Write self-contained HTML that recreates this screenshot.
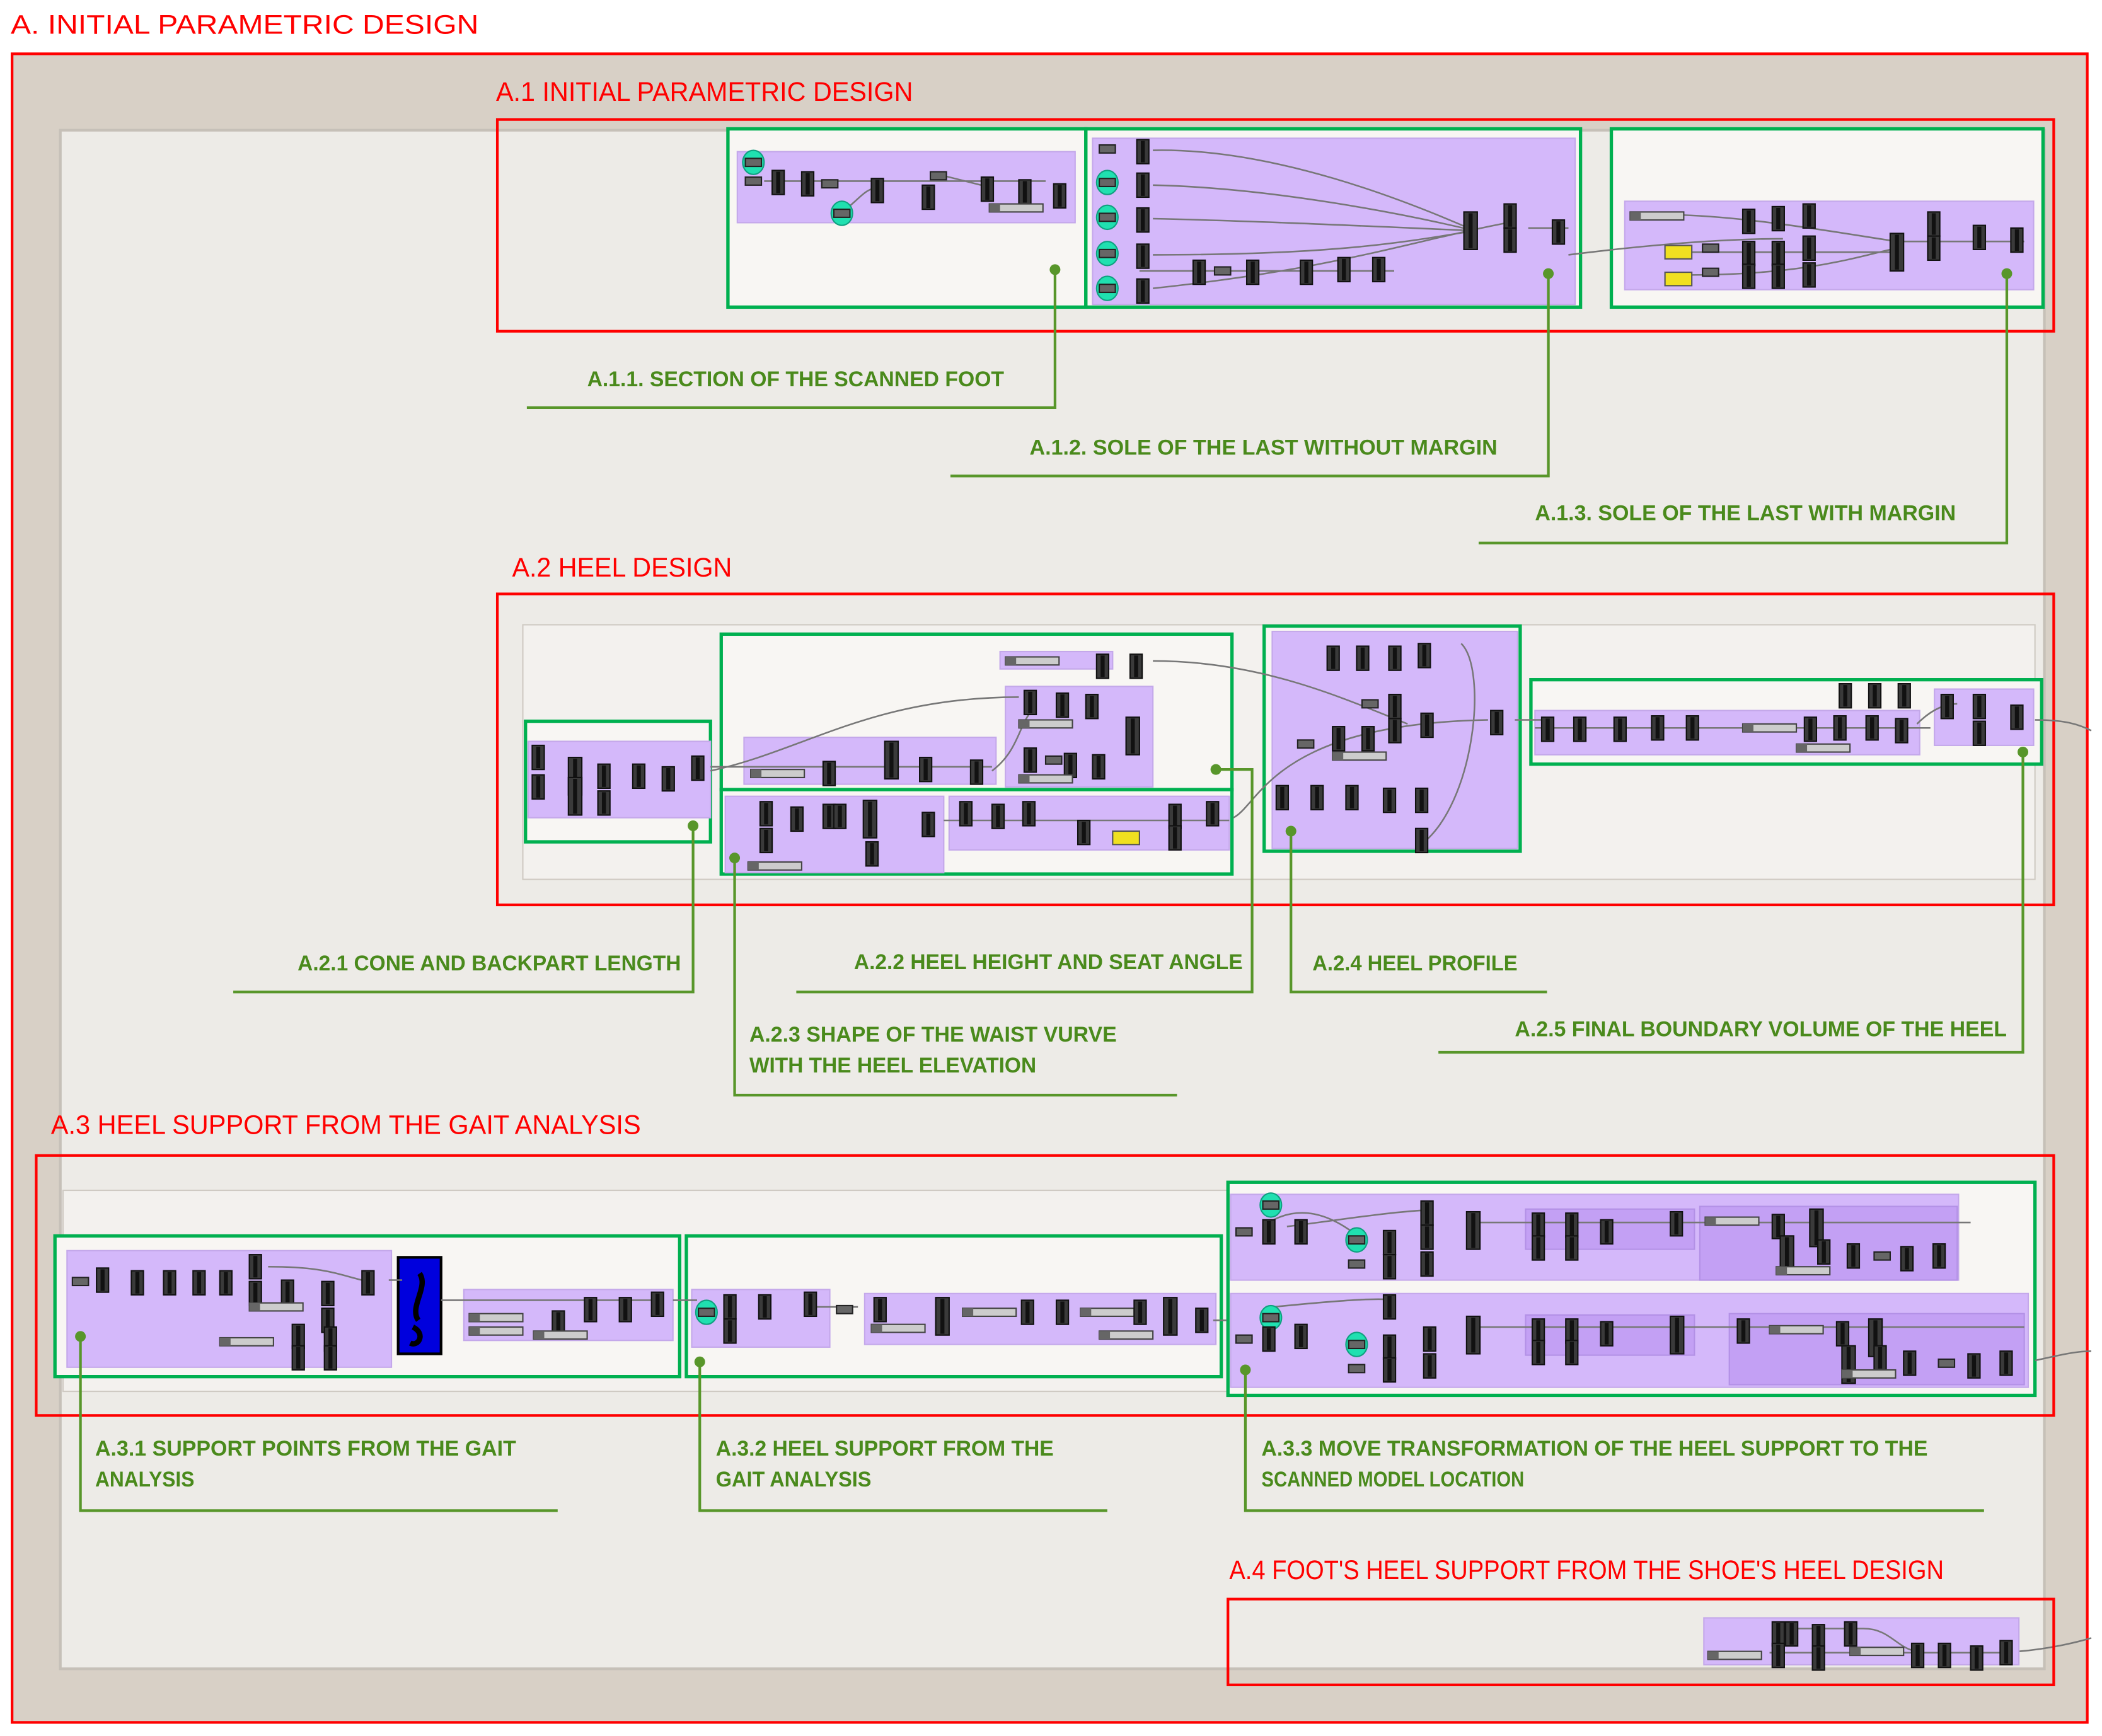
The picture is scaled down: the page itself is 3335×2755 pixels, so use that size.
<!DOCTYPE html>
<html><head><meta charset="utf-8">
<style>
html,body{margin:0;padding:0;background:#fff;}
svg{display:block;}
.r{font-family:"Liberation Sans Narrow","Liberation Sans",sans-serif;fill:#ff0000;font-size:20px;}
.g{font-family:"Liberation Sans Narrow","Liberation Sans",sans-serif;fill:#4a8a1c;font-size:16px;font-weight:bold;}
.gl{fill:none;stroke:#58962a;stroke-width:2;}
.gb{fill:#f8f6f3;stroke:#00b050;stroke-width:2.5;}
.rb{fill:none;stroke:#ff0000;stroke-width:2;}
.p{fill:#d4b8fa;stroke:#c4a8ea;stroke-width:1;}
.pd{fill:#c3a0f4;stroke:#b391e6;stroke-width:1;}
.w{fill:none;stroke:#777;stroke-width:1.2;}
</style></head><body>
<svg width="3335" height="2755" viewBox="0 0 1568 1295" xmlns="http://www.w3.org/2000/svg">
<defs>
<g id="n"><rect x="0" y="0" width="9" height="18" fill="#3a3a3a" stroke="#111" stroke-width="1"/><rect x="3" y="1" width="3" height="16" fill="#111"/></g>
<g id="t"><rect x="0" y="0" width="10" height="28" fill="#3a3a3a" stroke="#111" stroke-width="1"/><rect x="3.5" y="1" width="3" height="26" fill="#111"/></g>
<g id="s"><rect x="0" y="0" width="12" height="6" fill="#666" stroke="#222" stroke-width="1"/></g>
<g id="sl"><rect x="0" y="0" width="40" height="6" fill="#ccc" stroke="#444" stroke-width="1"/><rect x="0" y="0" width="8" height="6" fill="#666"/></g>
<g id="c"><ellipse cx="6" cy="3" rx="8" ry="9" fill="#20e0b0" stroke="#10a080"/><rect x="0" y="0" width="12" height="6" fill="#666" stroke="#222"/></g>
<g id="y"><rect x="0" y="0" width="20" height="10" fill="#f0e020" stroke="#555"/></g>
</defs>
<rect width="1568" height="1295" fill="#fff"/>
<text class="r" x="8" y="25" textLength="349" lengthAdjust="spacingAndGlyphs">A. INITIAL PARAMETRIC DESIGN</text>
<rect x="9" y="40" width="1548" height="1245" fill="#d8d0c6" stroke="#ff0000" stroke-width="2"/>
<rect x="45" y="97" width="1480" height="1148" fill="#edebe7" stroke="#c6c0b8" stroke-width="2"/>

<!-- A.1 -->
<text class="r" x="370" y="75" textLength="311" lengthAdjust="spacingAndGlyphs">A.1 INITIAL PARAMETRIC DESIGN</text>
<rect class="rb" x="371" y="89" width="1161" height="158"/>
<rect class="gb" x="543" y="96" width="267" height="133"/>
<rect class="gb" x="810" y="96" width="369" height="133"/>
<rect class="gb" x="1202" y="96" width="322" height="133"/>
<rect class="p" x="550" y="113" width="252" height="53"/>
<rect class="p" x="815" y="103" width="360" height="124"/>
<rect class="p" x="1212" y="150" width="305" height="66"/>
<path class="w" d="M570 135H780M628 158C640 150 645 140 655 140M700 130L740 140M860 112C950 110 1050 150 1100 172M860 138C950 140 1050 160 1100 172M860 163C950 165 1050 170 1100 172M860 190C1000 190 1050 180 1100 172M860 215C1000 200 1050 180 1130 165M850 202H1040M1140 170H1170M1240 160C1300 160 1380 175 1415 180M1260 188H1415M1260 205C1350 205 1390 190 1415 185M1420 180H1510M1170 190C1250 180 1300 178 1330 178"/>
<use href="#c" x="556" y="118"/><use href="#s" x="556" y="132"/><use href="#n" x="576" y="127"/><use href="#n" x="598" y="128"/><use href="#s" x="613" y="134"/><use href="#c" x="622" y="156"/><use href="#n" x="650" y="133"/><use href="#s" x="694" y="128"/><use href="#n" x="688" y="138"/><use href="#n" x="732" y="132"/><use href="#n" x="760" y="134"/><use href="#n" x="786" y="137"/><use href="#sl" x="738" y="152"/>
<use href="#s" x="820" y="108"/><use href="#n" x="848" y="104"/><use href="#c" x="820" y="133"/><use href="#n" x="848" y="129"/><use href="#c" x="820" y="159"/><use href="#n" x="848" y="155"/><use href="#c" x="820" y="186"/><use href="#n" x="848" y="182"/><use href="#c" x="820" y="212"/><use href="#n" x="848" y="208"/>
<use href="#n" x="890" y="194"/><use href="#s" x="906" y="199"/><use href="#n" x="930" y="194"/><use href="#n" x="970" y="194"/><use href="#n" x="998" y="192"/><use href="#n" x="1024" y="192"/><use href="#t" x="1092" y="158"/><use href="#n" x="1122" y="152"/><use href="#n" x="1122" y="170"/><use href="#n" x="1158" y="164"/>
<use href="#sl" x="1216" y="158"/><use href="#y" x="1242" y="183"/><use href="#y" x="1242" y="203"/><use href="#s" x="1270" y="182"/><use href="#s" x="1270" y="200"/><use href="#n" x="1300" y="156"/><use href="#n" x="1322" y="154"/><use href="#n" x="1345" y="152"/><use href="#n" x="1300" y="180"/><use href="#n" x="1322" y="180"/><use href="#n" x="1345" y="176"/><use href="#n" x="1300" y="197"/><use href="#n" x="1322" y="197"/><use href="#n" x="1345" y="196"/><use href="#t" x="1410" y="174"/><use href="#n" x="1438" y="158"/><use href="#n" x="1438" y="176"/><use href="#n" x="1472" y="168"/><use href="#n" x="1500" y="170"/>

<text class="g" x="438" y="288" textLength="311" lengthAdjust="spacingAndGlyphs">A.1.1. SECTION OF THE SCANNED FOOT</text>
<path class="gl" d="M393 304H787V201"/><circle cx="787" cy="201" r="4" fill="#58962a"/>
<text class="g" x="768" y="339" textLength="349" lengthAdjust="spacingAndGlyphs">A.1.2. SOLE OF THE LAST WITHOUT MARGIN</text>
<path class="gl" d="M709 355H1155V204"/><circle cx="1155" cy="204" r="4" fill="#58962a"/>
<text class="g" x="1145" y="388" textLength="314" lengthAdjust="spacingAndGlyphs">A.1.3. SOLE OF THE LAST WITH MARGIN</text>
<path class="gl" d="M1103 405H1497V204"/><circle cx="1497" cy="204" r="4" fill="#58962a"/>

<!-- A.2 -->
<text class="r" x="382" y="430" textLength="164" lengthAdjust="spacingAndGlyphs">A.2 HEEL DESIGN</text>
<rect class="rb" x="371" y="443" width="1161" height="232"/>
<rect x="390" y="466" width="1128" height="190" fill="#f3f1ee" stroke="#cfcac3"/>
<rect class="gb" x="392" y="538" width="138" height="90"/>
<rect class="gb" x="538" y="473" width="381" height="116"/>
<rect class="gb" x="538" y="589" width="381" height="63"/>
<rect class="gb" x="943" y="467" width="191" height="168"/>
<rect class="gb" x="1142" y="507" width="381" height="63"/>
<rect class="p" x="394" y="553" width="136" height="57"/>
<rect class="p" x="555" y="550" width="188" height="35"/>
<rect class="p" x="750" y="512" width="110" height="75"/>
<rect class="p" x="746" y="486" width="84" height="13"/>
<rect class="p" x="541" y="594" width="163" height="57"/>
<rect class="p" x="708" y="594" width="209" height="40"/>
<rect class="p" x="949" y="471" width="183" height="162"/>
<rect class="p" x="1145" y="530" width="287" height="33"/>
<rect class="p" x="1443" y="514" width="74" height="42"/>
<path class="w" d="M530 575C600 560 650 520 760 520M530 572H740M740 575C760 560 760 540 770 530M860 493C940 493 1000 520 1050 540M704 612H917M920 610C940 600 950 540 1110 537M1090 480C1110 500 1100 600 1060 630M1130 537H1150M1145 543H1440M1430 540C1440 530 1450 525 1460 525M1518 537C1540 537 1550 540 1560 545"/>
<use href="#n" x="397" y="556"/><use href="#n" x="397" y="578"/><use href="#t" x="424" y="565"/><use href="#t" x="424" y="580"/><use href="#n" x="446" y="570"/><use href="#n" x="446" y="590"/><use href="#n" x="472" y="570"/><use href="#n" x="494" y="572"/><use href="#n" x="516" y="564"/>
<use href="#sl" x="560" y="574"/><use href="#n" x="614" y="568"/><use href="#t" x="660" y="553"/><use href="#n" x="686" y="565"/><use href="#n" x="724" y="567"/>
<use href="#sl" x="750" y="490"/><use href="#n" x="818" y="488"/><use href="#n" x="843" y="488"/>
<use href="#n" x="764" y="515"/><use href="#n" x="788" y="517"/><use href="#n" x="810" y="518"/><use href="#sl" x="760" y="537"/><use href="#t" x="840" y="535"/><use href="#n" x="764" y="558"/><use href="#s" x="780" y="564"/><use href="#n" x="794" y="562"/><use href="#n" x="815" y="563"/><use href="#sl" x="760" y="578"/>
<use href="#n" x="567" y="598"/><use href="#n" x="567" y="618"/><use href="#n" x="590" y="602"/><use href="#n" x="614" y="600"/><use href="#n" x="622" y="600"/><use href="#t" x="644" y="597"/><use href="#n" x="688" y="606"/><use href="#n" x="646" y="628"/><use href="#sl" x="558" y="643"/>
<use href="#n" x="716" y="598"/><use href="#n" x="740" y="600"/><use href="#n" x="763" y="598"/><use href="#n" x="804" y="612"/><use href="#y" x="830" y="620"/><use href="#n" x="872" y="600"/><use href="#n" x="872" y="616"/><use href="#n" x="900" y="598"/>
<use href="#n" x="990" y="482"/><use href="#n" x="1012" y="482"/><use href="#n" x="1036" y="482"/><use href="#n" x="1058" y="480"/><use href="#s" x="1016" y="522"/><use href="#n" x="1036" y="518"/><use href="#n" x="1036" y="536"/><use href="#n" x="1060" y="532"/><use href="#s" x="968" y="552"/><use href="#n" x="994" y="542"/><use href="#n" x="1016" y="542"/><use href="#sl" x="994" y="561"/><use href="#n" x="952" y="586"/><use href="#n" x="978" y="586"/><use href="#n" x="1004" y="586"/><use href="#n" x="1032" y="588"/><use href="#n" x="1056" y="588"/><use href="#n" x="1056" y="618"/><use href="#n" x="1112" y="530"/>
<use href="#n" x="1150" y="535"/><use href="#n" x="1174" y="535"/><use href="#n" x="1204" y="535"/><use href="#n" x="1232" y="534"/><use href="#n" x="1258" y="534"/><use href="#sl" x="1300" y="540"/><use href="#n" x="1346" y="535"/><use href="#n" x="1368" y="534"/><use href="#n" x="1392" y="534"/><use href="#n" x="1414" y="536"/><use href="#sl" x="1340" y="555"/><use href="#n" x="1372" y="510"/><use href="#n" x="1394" y="510"/><use href="#n" x="1416" y="510"/><use href="#n" x="1448" y="518"/><use href="#n" x="1472" y="518"/><use href="#n" x="1472" y="538"/><use href="#n" x="1500" y="526"/>

<text class="g" x="222" y="724" textLength="286" lengthAdjust="spacingAndGlyphs">A.2.1 CONE AND BACKPART LENGTH</text>
<path class="gl" d="M174 740H517V616"/><circle cx="517" cy="616" r="4" fill="#58962a"/>
<text class="g" x="637" y="723" textLength="290" lengthAdjust="spacingAndGlyphs">A.2.2 HEEL HEIGHT AND SEAT ANGLE</text>
<path class="gl" d="M594 740H934V574H907"/><circle cx="907" cy="574" r="4" fill="#58962a"/>
<text class="g" x="559" y="777" textLength="274" lengthAdjust="spacingAndGlyphs">A.2.3 SHAPE OF THE WAIST VURVE</text>
<text class="g" x="559" y="800" textLength="214" lengthAdjust="spacingAndGlyphs">WITH THE HEEL ELEVATION</text>
<path class="gl" d="M878 817H548V640"/><circle cx="548" cy="640" r="4" fill="#58962a"/>
<text class="g" x="979" y="724" textLength="153" lengthAdjust="spacingAndGlyphs">A.2.4 HEEL PROFILE</text>
<path class="gl" d="M1154 740H963V620"/><circle cx="963" cy="620" r="4" fill="#58962a"/>
<text class="g" x="1130" y="773" textLength="367" lengthAdjust="spacingAndGlyphs">A.2.5 FINAL BOUNDARY VOLUME OF THE HEEL</text>
<path class="gl" d="M1073 785H1509V561"/><circle cx="1509" cy="561" r="4" fill="#58962a"/>

<!-- A.3 -->
<text class="r" x="38" y="846" textLength="440" lengthAdjust="spacingAndGlyphs">A.3 HEEL SUPPORT FROM THE GAIT ANALYSIS</text>
<rect class="rb" x="27" y="862" width="1505" height="194"/>
<rect x="47" y="888" width="1471" height="150" fill="#f3f1ee" stroke="#cfcac3"/>
<rect class="gb" x="41" y="922" width="466" height="105"/>
<rect class="gb" x="512" y="922" width="399" height="105"/>
<rect class="gb" x="916" y="882" width="602" height="159"/>
<rect class="p" x="50" y="933" width="242" height="87"/>
<rect x="297" y="938" width="32" height="72" fill="#0000dd" stroke="#000" stroke-width="2"/>
<path d="M313 950C320 960 305 975 312 985M308 990C318 995 312 1005 306 1002" stroke="#000" stroke-width="4" fill="none"/>
<rect class="p" x="346" y="962" width="156" height="38"/>
<rect class="p" x="516" y="962" width="103" height="43"/>
<rect class="p" x="645" y="965" width="262" height="38"/>
<rect class="p" x="918" y="891" width="543" height="64"/>
<rect class="pd" x="1268" y="900" width="192" height="55"/>
<rect class="pd" x="1138" y="902" width="126" height="30"/>
<rect class="p" x="918" y="965" width="595" height="70"/>
<rect class="pd" x="1290" y="980" width="220" height="53"/>
<rect class="pd" x="1138" y="981" width="126" height="30"/>
<path class="w" d="M200 945C240 945 250 950 270 955M290 955H300M329 970H490M502 970H520M607 975H640M905 985H915M950 910C970 900 990 905 1010 920M960 915C1000 910 1030 905 1060 903M1100 912H1470M1100 990H1510M950 975C1000 970 1030 968 1040 970M1518 1015C1540 1010 1550 1008 1560 1008M1506 1232C1530 1230 1550 1225 1560 1222"/>
<use href="#s" x="54" y="953"/><use href="#n" x="72" y="946"/><use href="#n" x="98" y="948"/><use href="#n" x="122" y="948"/><use href="#n" x="144" y="948"/><use href="#n" x="164" y="948"/><use href="#n" x="186" y="936"/><use href="#n" x="186" y="956"/><use href="#n" x="210" y="955"/><use href="#sl" x="186" y="972"/><use href="#n" x="240" y="956"/><use href="#n" x="240" y="976"/><use href="#n" x="270" y="948"/><use href="#sl" x="164" y="998"/><use href="#n" x="218" y="988"/><use href="#n" x="218" y="1004"/><use href="#n" x="242" y="990"/><use href="#n" x="242" y="1004"/>
<use href="#sl" x="350" y="980"/><use href="#sl" x="350" y="990"/><use href="#n" x="412" y="978"/><use href="#n" x="436" y="968"/><use href="#n" x="462" y="968"/><use href="#n" x="486" y="964"/><use href="#sl" x="398" y="993"/>
<use href="#c" x="521" y="976"/><use href="#n" x="540" y="966"/><use href="#n" x="540" y="984"/><use href="#n" x="566" y="966"/><use href="#n" x="600" y="964"/><use href="#s" x="624" y="974"/>
<use href="#n" x="652" y="968"/><use href="#sl" x="650" y="988"/><use href="#t" x="698" y="968"/><use href="#sl" x="718" y="976"/><use href="#n" x="762" y="970"/><use href="#n" x="788" y="970"/><use href="#sl" x="806" y="976"/><use href="#n" x="846" y="970"/><use href="#t" x="868" y="968"/><use href="#n" x="892" y="976"/><use href="#sl" x="820" y="993"/>
<use href="#c" x="942" y="896"/><use href="#s" x="922" y="916"/><use href="#n" x="942" y="910"/><use href="#n" x="966" y="910"/><use href="#c" x="1006" y="922"/><use href="#s" x="1006" y="940"/><use href="#n" x="1032" y="918"/><use href="#n" x="1032" y="936"/><use href="#n" x="1060" y="896"/><use href="#n" x="1060" y="914"/><use href="#n" x="1060" y="934"/><use href="#t" x="1094" y="904"/><use href="#n" x="1143" y="905"/><use href="#n" x="1143" y="922"/><use href="#n" x="1168" y="905"/><use href="#n" x="1168" y="922"/><use href="#n" x="1194" y="910"/><use href="#n" x="1246" y="904"/><use href="#sl" x="1272" y="908"/><use href="#n" x="1322" y="906"/><use href="#t" x="1350" y="902"/><use href="#t" x="1328" y="922"/><use href="#n" x="1356" y="925"/><use href="#n" x="1378" y="928"/><use href="#s" x="1398" y="934"/><use href="#n" x="1418" y="930"/><use href="#n" x="1442" y="928"/><use href="#sl" x="1325" y="945"/>
<use href="#c" x="942" y="980"/><use href="#s" x="922" y="996"/><use href="#n" x="942" y="990"/><use href="#n" x="966" y="988"/><use href="#n" x="1032" y="966"/><use href="#c" x="1006" y="1000"/><use href="#s" x="1006" y="1018"/><use href="#n" x="1032" y="996"/><use href="#n" x="1032" y="1013"/><use href="#n" x="1062" y="990"/><use href="#n" x="1062" y="1010"/><use href="#t" x="1094" y="982"/><use href="#n" x="1143" y="984"/><use href="#n" x="1143" y="1000"/><use href="#n" x="1168" y="984"/><use href="#n" x="1168" y="1000"/><use href="#n" x="1194" y="986"/><use href="#t" x="1246" y="982"/><use href="#n" x="1296" y="984"/><use href="#sl" x="1320" y="989"/><use href="#n" x="1370" y="986"/><use href="#t" x="1394" y="984"/><use href="#t" x="1374" y="1004"/><use href="#n" x="1398" y="1004"/><use href="#n" x="1420" y="1008"/><use href="#s" x="1446" y="1014"/><use href="#n" x="1468" y="1010"/><use href="#n" x="1492" y="1008"/><use href="#sl" x="1374" y="1022"/>

<text class="g" x="71" y="1086" textLength="314" lengthAdjust="spacingAndGlyphs">A.3.1 SUPPORT POINTS FROM THE GAIT</text>
<text class="g" x="71" y="1109" textLength="74" lengthAdjust="spacingAndGlyphs">ANALYSIS</text>
<path class="gl" d="M416 1127H60V997"/><circle cx="60" cy="997" r="4" fill="#58962a"/>
<text class="g" x="534" y="1086" textLength="252" lengthAdjust="spacingAndGlyphs">A.3.2 HEEL SUPPORT FROM THE</text>
<text class="g" x="534" y="1109" textLength="116" lengthAdjust="spacingAndGlyphs">GAIT ANALYSIS</text>
<path class="gl" d="M826 1127H522V1016"/><circle cx="522" cy="1016" r="4" fill="#58962a"/>
<text class="g" x="941" y="1086" textLength="497" lengthAdjust="spacingAndGlyphs">A.3.3 MOVE TRANSFORMATION OF THE HEEL SUPPORT TO THE</text>
<text class="g" x="941" y="1109" textLength="196" lengthAdjust="spacingAndGlyphs">SCANNED MODEL LOCATION</text>
<path class="gl" d="M1480 1127H929V1022"/><circle cx="929" cy="1022" r="4" fill="#58962a"/>

<!-- A.4 -->
<text class="r" x="917" y="1178" textLength="533" lengthAdjust="spacingAndGlyphs">A.4 FOOT'S HEEL SUPPORT FROM THE SHOE'S HEEL DESIGN</text>
<rect class="rb" x="916" y="1193" width="616" height="64"/>
<rect class="p" x="1271" y="1207" width="235" height="35"/>
<path class="w" d="M1340 1215H1390C1410 1215 1415 1230 1430 1232M1320 1233H1500"/>
<use href="#sl" x="1274" y="1232"/><use href="#n" x="1322" y="1210"/><use href="#n" x="1332" y="1210"/><use href="#n" x="1322" y="1226"/><use href="#n" x="1352" y="1212"/><use href="#n" x="1352" y="1228"/><use href="#n" x="1376" y="1210"/><use href="#sl" x="1380" y="1229"/><use href="#n" x="1426" y="1226"/><use href="#n" x="1446" y="1226"/><use href="#n" x="1470" y="1228"/><use href="#n" x="1492" y="1224"/>
</svg>
</body></html>
